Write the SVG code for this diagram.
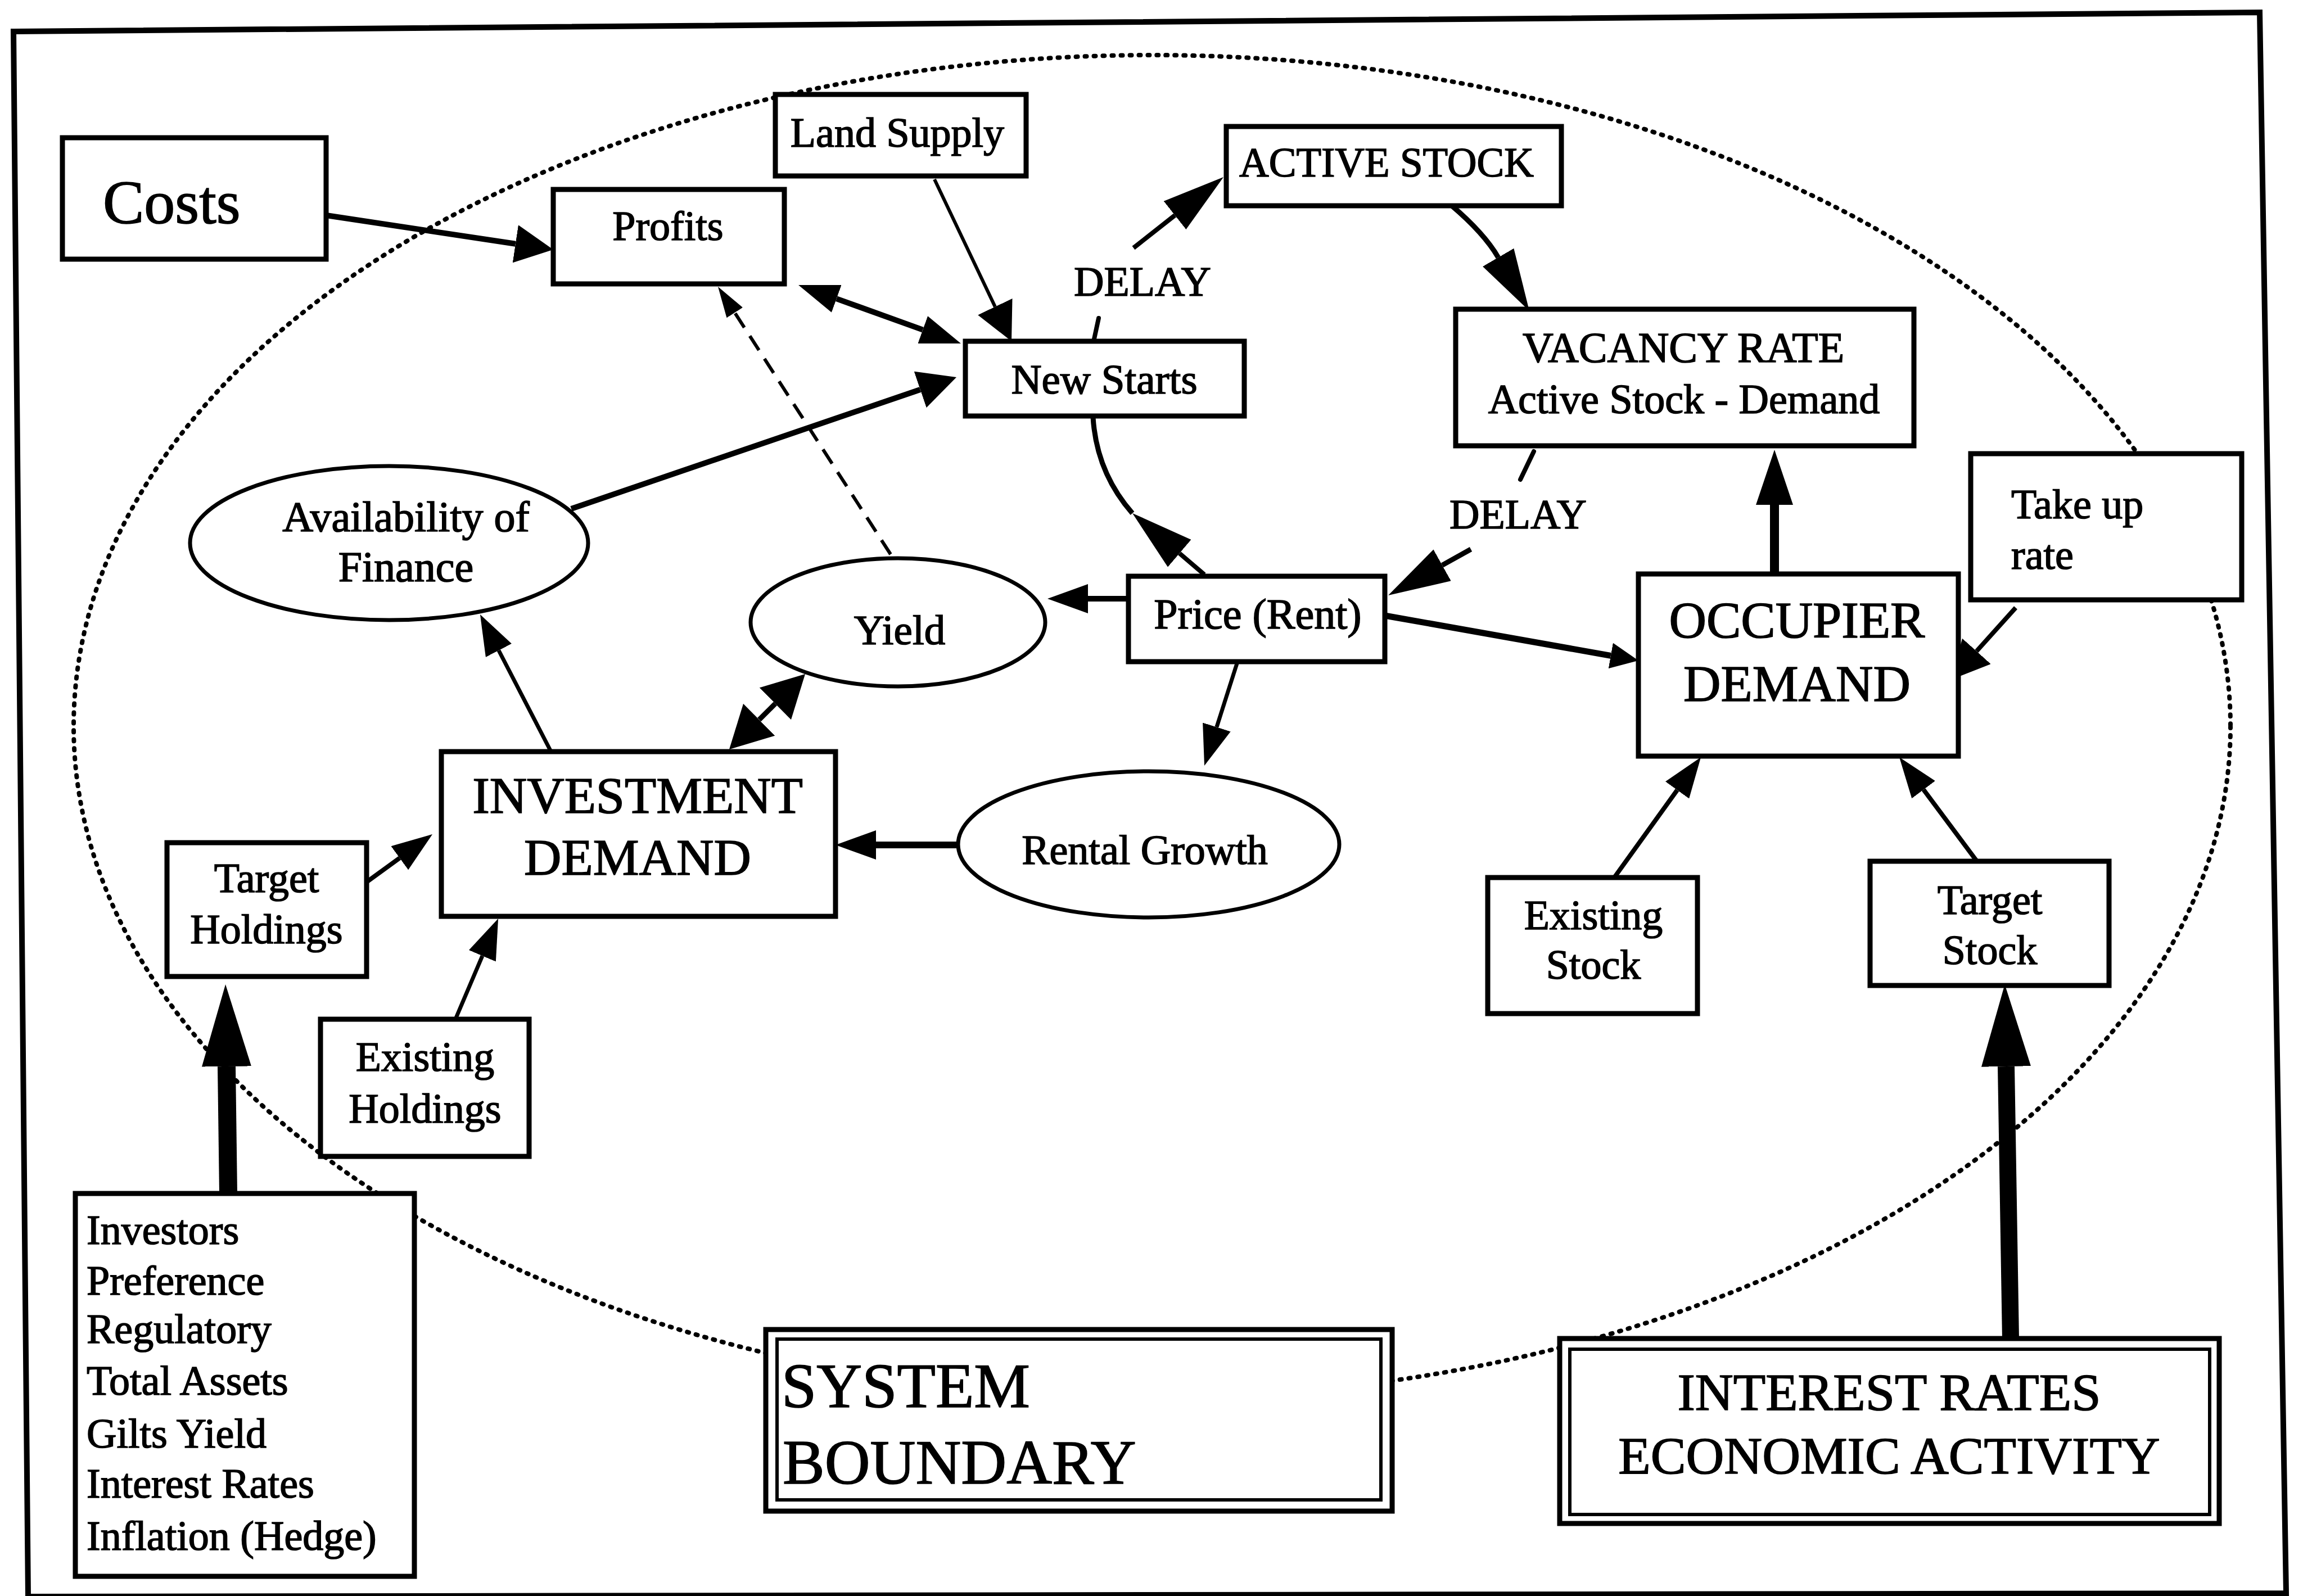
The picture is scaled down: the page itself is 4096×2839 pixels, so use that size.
<svg xmlns="http://www.w3.org/2000/svg" width="4096" height="2839" viewBox="0 0 4096 2839">
<style>
.bx{fill:#fff;stroke:#000;stroke-width:9}
.bx2{fill:none;stroke:#000;stroke-width:6}
.el{fill:#fff;stroke:#000;stroke-width:7}
.t{font-family:"Liberation Serif","Times New Roman",serif;fill:#000;stroke:#000;stroke-width:1.6}
.m{text-anchor:middle}
.ln{fill:none;stroke:#000;stroke-linecap:butt}
.rc{stroke-linecap:round}
.hd{fill:#000}
.dot{fill:none;stroke:#000;stroke-width:8;stroke-linecap:round;stroke-dasharray:3 13}
</style>
<defs>
<marker id="a1" markerUnits="userSpaceOnUse" orient="auto-start-reverse" viewBox="0 -26 72 52" markerWidth="72" markerHeight="52" refX="0" refY="0"><path class="hd" d="M0,-26 L72,0 L0,26 Z"/></marker>
<marker id="a2" markerUnits="userSpaceOnUse" orient="auto-start-reverse" viewBox="0 -34 68 68" markerWidth="68" markerHeight="68" refX="0" refY="0"><path class="hd" d="M0,-34 L68,0 L0,34 Z"/></marker>
<marker id="al" markerUnits="userSpaceOnUse" orient="auto-start-reverse" viewBox="0 -32 110 64" markerWidth="110" markerHeight="64" refX="0" refY="0"><path class="hd" d="M0,-32 L110,0 L0,32 Z"/></marker>
<marker id="ay" markerUnits="userSpaceOnUse" orient="auto-start-reverse" viewBox="0 -40 75 80" markerWidth="75" markerHeight="80" refX="0" refY="0"><path class="hd" d="M0,-40 L75,0 L0,40 Z"/></marker>
<marker id="as" markerUnits="userSpaceOnUse" orient="auto-start-reverse" viewBox="0 -23 50 46" markerWidth="50" markerHeight="46" refX="0" refY="0"><path class="hd" d="M0,-23 L50,0 L0,23 Z"/></marker>
<marker id="ad" markerUnits="userSpaceOnUse" orient="auto-start-reverse" viewBox="0 -17 55 34" markerWidth="55" markerHeight="34" refX="0" refY="0"><path class="hd" d="M0,-17 L55,0 L0,17 Z"/></marker>
<marker id="ao" markerUnits="userSpaceOnUse" orient="auto-start-reverse" viewBox="0 -33 98 66" markerWidth="98" markerHeight="66" refX="0" refY="0"><path class="hd" d="M0,-33 L98,0 L0,33 Z"/></marker>
<marker id="ab" markerUnits="userSpaceOnUse" orient="auto-start-reverse" viewBox="0 -44 146 88" markerWidth="146" markerHeight="88" refX="0" refY="0"><path class="hd" d="M0,-44 L146,0 L0,44 Z"/></marker>
</defs>

<rect x="0" y="0" width="4096" height="2839" fill="#fff"/>

<!-- outer frame -->
<g id="frame">
<polygon points="24,56 4019,22 4066,2834 50,2840" fill="none" stroke="#000" stroke-width="10"/>
</g>

<!-- dotted system boundary -->
<g id="boundary">
<ellipse class="dot" cx="2049" cy="1292" rx="1918" ry="1194"/>
</g>

<g id="connectors">
<!-- Costs -> Profits -->
<path class="ln" stroke-width="10" d="M580,383 L916.8,433.8" marker-end="url(#a2)"/>
<!-- Profits <-> New Starts -->
<path class="ln" stroke-width="10" d="M1487.8,531.4 L1641.2,586.6" marker-start="url(#a1)" marker-end="url(#a1)"/>
<!-- Land Supply -> New Starts -->
<path class="ln" stroke-width="6" d="M1662,319 L1769.8,545.6" marker-end="url(#a2)"/>
<!-- Availability of Finance -> New Starts -->
<path class="ln" stroke-width="10" d="M1016,905 L1636.7,693" marker-end="url(#a2)"/>
<!-- Yield -> Profits (dashed) -->
<path class="ln" stroke-width="6" stroke-dasharray="30 18" d="M1584,986 L1306.8,556.2" marker-end="url(#ad)"/>
<!-- Price -> Yield -->
<path class="ln" stroke-width="10" d="M2007,1065 L1935,1065" marker-end="url(#a1)"/>
<!-- Price -> New Starts -->
<path class="ln" stroke-width="8" d="M2142,1022 L2097.8,984.3" marker-end="url(#al)"/>
<path class="ln" stroke-width="9" d="M2014,913 Q1950,840 1944,742"/>
<!-- New Starts -> Active Stock (delay) -->
<path class="ln rc" stroke-width="8" d="M1946,603 L1954,566"/>
<text class="t m" x="2032" y="526" font-size="74">DELAY</text>
<path class="ln" stroke-width="8" d="M2016,441 L2089.6,383" marker-end="url(#al)"/>
<!-- Active Stock -> Vacancy Rate -->
<path class="ln" stroke-width="9" d="M2581,365 Q2639.6,414.7 2664.7,457.9" marker-end="url(#al)"/>
<!-- Vacancy Rate -> Price (delay) -->
<path class="ln rc" stroke-width="8" d="M2728,803 L2704,853"/>
<text class="t m" x="2700" y="940" font-size="74">DELAY</text>
<path class="ln" stroke-width="9" d="M2616,977 L2565.1,1005.4" marker-end="url(#al)"/>
<!-- Occupier Demand -> Vacancy Rate -->
<path class="ln" stroke-width="16" d="M3156,1021 L3156,898" marker-end="url(#ao)"/>
<!-- Price -> Occupier Demand -->
<path class="ln" stroke-width="11" d="M2463,1095 L2864.8,1166.3" marker-end="url(#as)"/>
<!-- Price -> Rental Growth -->
<path class="ln" stroke-width="7" d="M2201,1177 L2163.9,1293.4" marker-end="url(#a1)"/>
<!-- Rental Growth -> Investment Demand -->
<path class="ln" stroke-width="12" d="M1705,1503 L1558,1503" marker-end="url(#a1)"/>
<!-- Yield <-> Investment Demand -->
<path class="ln" stroke-width="9" d="M1378.8,1251.8 L1350.2,1280.2" marker-start="url(#ay)" marker-end="url(#ay)"/>
<!-- Investment Demand -> Availability of Finance -->
<path class="ln" stroke-width="7" d="M980,1337 L887,1157" marker-end="url(#a1)"/>
<!-- Target Holdings -> Investment Demand -->
<path class="ln" stroke-width="8" d="M652,1569 L710.8,1526.3" marker-end="url(#a1)"/>
<!-- Existing Holdings -> Investment Demand -->
<path class="ln" stroke-width="7" d="M810,1813 L857.9,1700.3" marker-end="url(#a1)"/>
<!-- Investor factors -> Target Holdings -->
<path class="ln" stroke-width="32" d="M406,2123 L403,1897" marker-end="url(#ab)"/>
<!-- Interest rates / economic activity -> Target Stock -->
<path class="ln" stroke-width="30" d="M3576,2382 L3568,1897" marker-end="url(#ab)"/>
<!-- Existing Stock -> Occupier Demand -->
<path class="ln" stroke-width="8" d="M2871,1561 L2983,1405.4" marker-end="url(#a1)"/>
<!-- Target Stock -> Occupier Demand -->
<path class="ln" stroke-width="8" d="M3516,1532 L3421.1,1404.7" marker-end="url(#a1)"/>
<!-- Take up rate -> Occupier Demand -->
<path class="ln" stroke-width="8" d="M3585,1081 L3515.4,1158.4" marker-end="url(#a2)"/>
</g>

<g id="costs">
<rect class="bx" x="111" y="245" width="469" height="216"/>
<text class="t" x="183" y="397" font-size="110">Costs</text>
</g>
<g id="profits">
<rect class="bx" x="984" y="337" width="411" height="168"/>
<text class="t m" x="1188" y="427" font-size="74">Profits</text>
</g>
<g id="land-supply">
<rect class="bx" x="1379" y="168" width="446" height="145"/>
<text class="t m" x="1596" y="261" font-size="74">Land Supply</text>
</g>
<g id="new-starts">
<rect class="bx" x="1717" y="607" width="496" height="133"/>
<text class="t m" x="1964" y="700" font-size="75">New Starts</text>
</g>
<g id="active-stock">
<rect class="bx" x="2181" y="225" width="596" height="141"/>
<text class="t m" x="2466" y="314" font-size="73">ACTIVE STOCK</text>
</g>
<g id="vacancy-rate">
<rect class="bx" x="2589" y="550" width="815" height="243"/>
<text class="t m" x="2994" y="644" font-size="76">VACANCY RATE</text>
<text class="t m" x="2995" y="735" font-size="74">Active Stock - Demand</text>
</g>
<g id="price-rent">
<rect class="bx" x="2007" y="1025" width="456" height="152"/>
<text class="t m" x="2237" y="1118" font-size="76">Price (Rent)</text>
</g>
<g id="yield">
<ellipse class="el" cx="1597" cy="1107" rx="262" ry="114"/>
<text class="t m" x="1600" y="1146" font-size="75">Yield</text>
</g>
<g id="availability-of-finance">
<ellipse class="el" cx="692" cy="966" rx="354" ry="137"/>
<text class="t m" x="722" y="945" font-size="76">Availability of</text>
<text class="t m" x="722" y="1034" font-size="76">Finance</text>
</g>
<g id="investment-demand">
<rect class="bx" x="785" y="1337" width="701" height="293"/>
<text class="t m" x="1134" y="1446" font-size="92">INVESTMENT</text>
<text class="t m" x="1134" y="1556" font-size="92">DEMAND</text>
</g>
<g id="rental-growth">
<ellipse class="el" cx="2043" cy="1502" rx="339" ry="130"/>
<text class="t m" x="2036" y="1537" font-size="74">Rental Growth</text>
</g>
<g id="occupier-demand">
<rect class="bx" x="2914" y="1021" width="569" height="324"/>
<text class="t m" x="3196" y="1134" font-size="92">OCCUPIER</text>
<text class="t m" x="3196" y="1247" font-size="92">DEMAND</text>
</g>
<g id="take-up-rate">
<rect class="bx" x="3505" y="807" width="482" height="260"/>
<text class="t" x="3577" y="922" font-size="74">Take up</text>
<text class="t" x="3577" y="1012" font-size="74">rate</text>
</g>
<g id="existing-stock">
<rect class="bx" x="2646" y="1561" width="373" height="242"/>
<text class="t m" x="2834" y="1653" font-size="74">Existing</text>
<text class="t m" x="2834" y="1741" font-size="74">Stock</text>
</g>
<g id="target-stock">
<rect class="bx" x="3326" y="1532" width="425" height="221"/>
<text class="t m" x="3539" y="1626" font-size="74">Target</text>
<text class="t m" x="3539" y="1715" font-size="74">Stock</text>
</g>
<g id="target-holdings">
<rect class="bx" x="297" y="1499" width="355" height="238"/>
<text class="t m" x="474" y="1587" font-size="74">Target</text>
<text class="t m" x="474" y="1678" font-size="74">Holdings</text>
</g>
<g id="existing-holdings">
<rect class="bx" x="570" y="1813" width="371" height="244"/>
<text class="t m" x="756" y="1905" font-size="74">Existing</text>
<text class="t m" x="756" y="1997" font-size="74">Holdings</text>
</g>
<g id="investor-factors">
<rect class="bx" x="134" y="2123" width="603" height="681"/>
<text class="t" x="154" y="2213" font-size="74">Investors</text>
<text class="t" x="154" y="2303" font-size="74">Preference</text>
<text class="t" x="154" y="2389" font-size="74">Regulatory</text>
<text class="t" x="154" y="2481" font-size="74">Total Assets</text>
<text class="t" x="154" y="2575" font-size="74">Gilts Yield</text>
<text class="t" x="154" y="2664" font-size="74">Interest Rates</text>
<text class="t" x="154" y="2757" font-size="74">Inflation (Hedge)</text>
</g>
<g id="system-boundary">
<rect class="bx" x="1362" y="2365" width="1114" height="323"/>
<rect class="bx2" x="1382" y="2382" width="1074" height="286"/>
<text class="t" x="1390" y="2503" font-size="112">SYSTEM</text>
<text class="t" x="1392" y="2639" font-size="112">BOUNDARY</text>
</g>
<g id="interest-rates-economic-activity">
<rect class="bx" x="2774" y="2381" width="1173" height="329"/>
<rect class="bx2" x="2792" y="2400" width="1138" height="294"/>
<text class="t m" x="3360" y="2508" font-size="94">INTEREST RATES</text>
<text class="t m" x="3360" y="2621" font-size="94">ECONOMIC ACTIVITY</text>
</g>
</svg>
